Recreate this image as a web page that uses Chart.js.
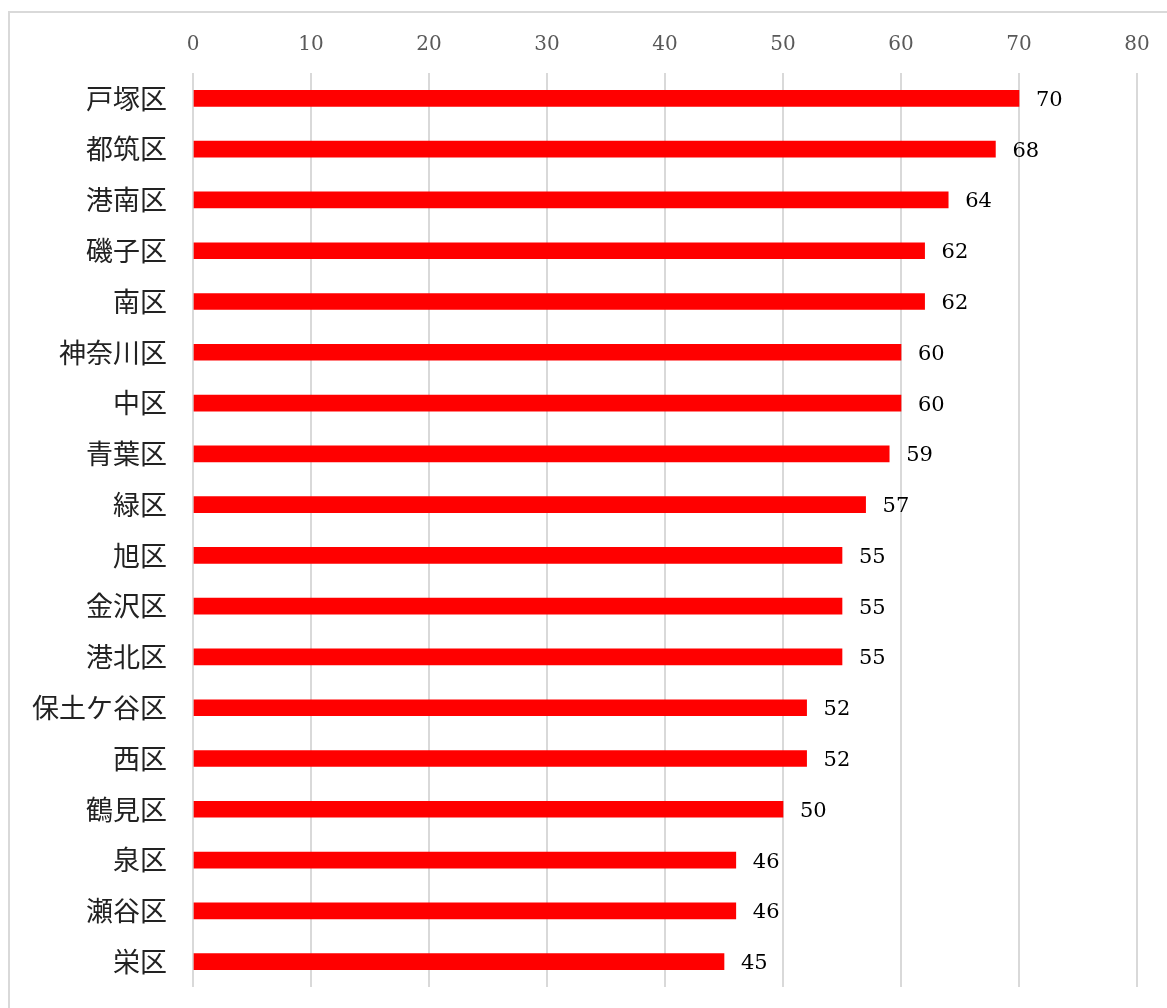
<!DOCTYPE html>
<html>
<head>
<meta charset="utf-8">
<script src="https://cdn.jsdelivr.net/npm/chart.js@4/dist/chart.umd.min.js"></script>
<style>
  html, body { margin: 0; padding: 0; background: #fff; overflow: hidden; }
  #frame { position: absolute; left: 8px; top: 11px; width: 1300px; height: 1100px; border: 2px solid #d9d9d9; }
  #wrap { position: absolute; left: 0; top: 0; width: 1167px; height: 1008px; }
</style>
</head>
<body>
<div id="frame"></div>
<div id="wrap"><canvas id="myChart" width="1167" height="1008"></canvas></div>
<script>
var wards = ["戸塚区", "都筑区", "港南区", "磯子区", "南区", "神奈川区", "中区", "青葉区", "緑区",
    "旭区", "金沢区", "港北区", "保土ケ谷区", "西区", "鶴見区", "泉区", "瀬谷区", "栄区"];
var counts = [70, 68, 64, 62, 62, 60, 60, 59, 57, 55, 55, 55, 52, 52, 50, 46, 46, 45];
var xTicks = [0, 10, 20, 30, 40, 50, 60, 70, 80];

// value labels at the end of each bar
var barValues = {
    id: 'barValues',
    afterDatasetsDraw: function(chart) {
        var c = chart.ctx;
        var meta = chart.getDatasetMeta(0);
        c.save();
        c.font = '21px "DejaVu Serif", serif';
        c.fillStyle = '#000';
        c.textAlign = 'left';
        c.textBaseline = 'middle';
        meta.data.forEach(function(bar, i) {
            c.fillText(counts[i], bar.x + 17, bar.y + 2);
        });
        c.restore();
    }
};

var ctx = document.getElementById("myChart");
var myChart = new Chart(ctx, {
    type: 'bar',
    data: {
        labels: wards,
        datasets: [{
            data: counts,
            backgroundColor: "#ff0000",
            barThickness: 16
        }]
    },
    options: {
        indexAxis: 'y',
        responsive: false,
        animation: false,
        layout: { padding: { left: 0, right: 30, top: 0, bottom: 21 } },
        plugins: {
            legend: { display: false },
            tooltip: { enabled: false }
        },
        scales: {
            x: {
                position: 'top',
                min: 0,
                max: 80,
                afterBuildTicks: function(axis) {
                    axis.ticks = xTicks.map(function(v) { return { value: v }; });
                },
                afterFit: function(axis) {
                    axis.height = 73;
                    axis.paddingLeft = 0;
                    axis.paddingRight = 0;
                },
                border: { display: false },
                grid: { color: '#d9d9d9', lineWidth: 2, drawTicks: false },
                ticks: {
                    padding: 16,
                    color: '#595959',
                    font: { family: '"DejaVu Serif", serif', size: 20 }
                }
            },
            y: {
                afterFit: function(axis) {
                    axis.width = 193;
                    axis.paddingTop = 0;
                    axis.paddingBottom = 0;
                },
                border: { display: false },
                grid: { display: false, drawTicks: false },
                ticks: {
                    padding: 26,
                    color: '#222',
                    font: { family: '"Noto Sans CJK JP", sans-serif', size: 27 }
                }
            }
        }
    },
    plugins: [barValues]
});
</script>
</body>
</html>
